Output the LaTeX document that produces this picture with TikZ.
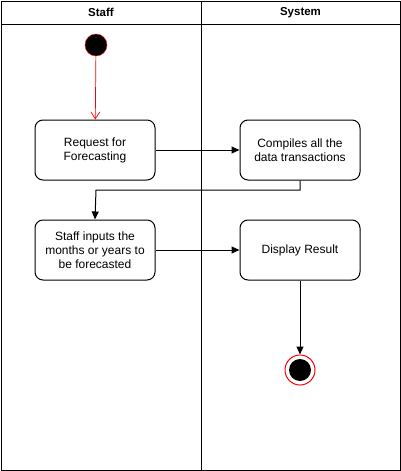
\documentclass[tikz,border=0pt]{standalone}
\usepackage{fontspec}
\setmainfont{Liberation Sans}
\usetikzlibrary{arrows.meta}
\definecolor{startred}{RGB}{255,0,0}
\begin{document}
\begin{tikzpicture}[x=1pt,y=-1pt,
    act/.style={draw,rounded corners=8pt,align=center,minimum width=120pt,minimum height=60pt,font=\fontsize{12}{14}\selectfont,line width=1pt},
    flow/.style={-{Triangle[length=8pt,width=7pt]},line width=1pt},
    lane/.style={font=\bfseries\fontsize{11.5}{14}\selectfont}]
      \useasboundingbox (0,0) rectangle (401,471);
      % swimlanes
      \draw[line width=1pt] (1,1) rectangle (400,470);
      \draw[line width=1pt] (1,24) -- (400,24);
      \draw[line width=1pt] (201,1) -- (201,470);
      \node[lane] (staff) at (101,12.5) {Staff};
      \node[lane] (sys) at (300.5,12.5) {System};
      % start / end
      \node[circle,fill=black,draw=startred,minimum size=22pt,inner sep=0pt] (start) at (96,45) {};
      \node[circle,draw=startred,line width=1pt,minimum size=30pt,inner sep=0pt] (stop) at (300,370) {};
      \fill (stop.center) circle (11pt);
      % actions
      \node[act] (req) at (95,150) {Request for\\Forecasting};
      \node[act] (comp) at (300,150) {Compiles all the\\data transactions};
      \node[act] (inp) at (95,250) {Staff inputs the\\months or years to\\be forecasted};
      \node[act] (disp) at (300,250) {Display Result};
      % flows
      \draw[-{Straight Barb[length=7pt,width=9pt]},startred,line width=0.7pt] (start)--(req);
      \draw[flow] (req)--(comp);
      \draw[flow] (comp.south) |- (96,190) -- (inp.north);
      \draw[flow] (inp)--(disp);
      \draw[flow] (disp)--(stop);
    \end{tikzpicture}
\end{document}
